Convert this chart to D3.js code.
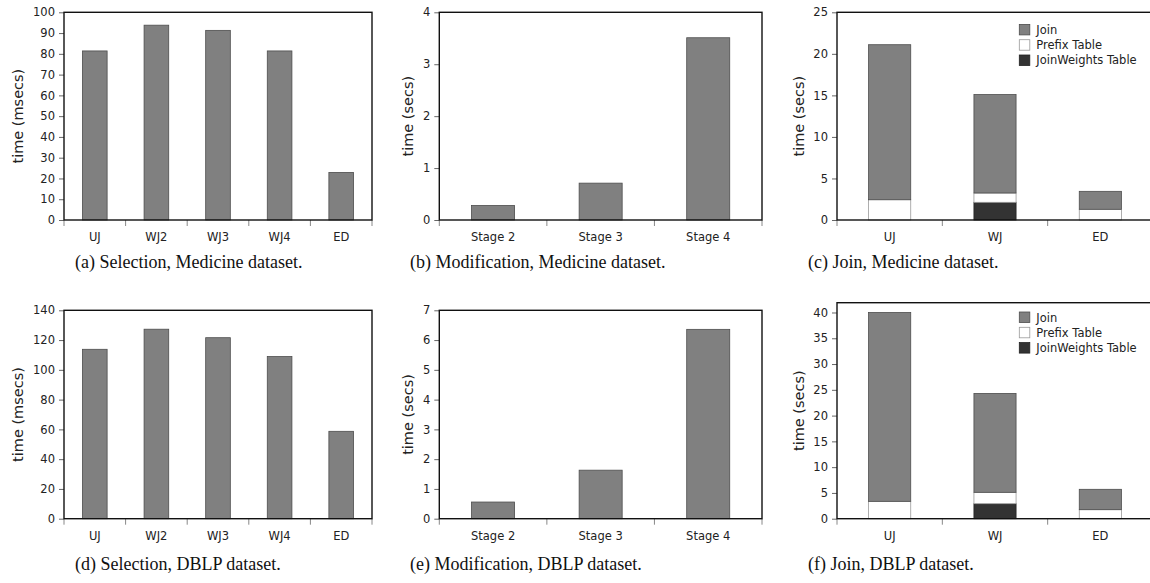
<!DOCTYPE html>
<html><head><meta charset="utf-8">
<script src="https://cdn.jsdelivr.net/npm/d3@7"></script>
<style>body{margin:0;background:#fff;} svg{display:block;}</style>
</head><body>
<svg id="chart" width="1150" height="583"></svg>
<script>
// ---- data ----
const selCats = ["UJ", "WJ2", "WJ3", "WJ4", "ED"];
const selMedicine = [81.4, 93.8, 91.3, 81.4, 22.9];
const selDBLP = [113.8, 127.3, 121.6, 108.9, 58.7];

const modCats = ["Stage 2", "Stage 3", "Stage 4"];
const modMedicine = [0.28, 0.71, 3.51];
const modDBLP = [0.56, 1.63, 6.36];

const joinCats = ["UJ", "WJ", "ED"];
const joinSeries = ["JoinWeights Table", "Prefix Table", "Join"];
const joinMedJoinWeights = [0, 2.13, 0];
const joinMedPrefix = [2.44, 1.12, 1.29];
const joinMedJoin = [18.66, 11.85, 2.16];
const joinDBLPJoinWeights = [0, 2.91, 0];
const joinDBLPPrefix = [3.37, 2.21, 1.75];
const joinDBLPJoin = [36.63, 19.18, 3.95];

const selTicksMed = [0,10,20,30,40,50,60,70,80,90,100];
const selTicksDBLP = [0,20,40,60,80,100,120,140];
const modTicksMed = [0,1,2,3,4];
const modTicksDBLP = [0,1,2,3,4,5,6,7];
const joinTicksMed = [0,5,10,15,20,25];
const joinTicksDBLP = [0,5,10,15,20,25,30,35,40];

const captions = [
  "(a) Selection, Medicine dataset.",
  "(b) Modification, Medicine dataset.",
  "(c) Join, Medicine dataset.",
  "(d) Selection, DBLP dataset.",
  "(e) Modification, DBLP dataset.",
  "(f) Join, DBLP dataset."
];

// ---- styles ----
const svg = d3.select("#chart");
const FONT = "DejaVu Sans, Verdana, sans-serif";
const BAR = "#808080", BARSTROKE = "#4d4d4d";
const seriesFill = {"Join": "#808080", "Prefix Table": "#ffffff", "JoinWeights Table": "#333333"};
const seriesStroke = {"Join": "#4d4d4d", "Prefix Table": "#9a9a9a", "JoinWeights Table": "#222222"};

function panel(opt) {
  const g = svg.append("g");
  const x = d3.scaleBand().domain(opt.cats).range([opt.left, opt.right]).paddingInner(0.6).paddingOuter(0.3);
  const y = d3.scaleLinear().domain(opt.domain).range([opt.bottom, opt.top]);

  if (opt.values) {
    g.selectAll("rect.bar").data(opt.values).join("rect")
      .attr("x", (d, i) => x(opt.cats[i]))
      .attr("width", x.bandwidth())
      .attr("y", d => y(d))
      .attr("height", d => y(0) - y(d))
      .attr("fill", BAR).attr("stroke", BARSTROKE).attr("stroke-width", 0.8);
  } else {
    const rows = opt.cats.map((c, i) => ({cat: c, "JoinWeights Table": opt.jw[i], "Prefix Table": opt.prefix[i], "Join": opt.join[i]}));
    const stacked = d3.stack().keys(joinSeries)(rows);
    stacked.forEach(s => {
      g.selectAll(null).data(s.filter(d => d[1] - d[0] > 0)).join("rect")
        .attr("x", d => x(d.data.cat))
        .attr("width", x.bandwidth())
        .attr("y", d => y(d[1]))
        .attr("height", d => y(d[0]) - y(d[1]))
        .attr("fill", seriesFill[s.key]).attr("stroke", seriesStroke[s.key]).attr("stroke-width", 0.8);
    });
    const lg = g.append("g").attr("transform", `translate(${opt.legendX},${opt.legendY})`);
    const legendOrder = ["Join", "Prefix Table", "JoinWeights Table"];
    legendOrder.forEach((k, i) => {
      lg.append("rect").attr("x", 0).attr("y", i * 15.3 - 5.3).attr("width", 10.5).attr("height", 10.5)
        .attr("fill", seriesFill[k]).attr("stroke", k === "Prefix Table" ? "#999" : seriesStroke[k]).attr("stroke-width", 0.8);
      lg.append("text").attr("x", 17).attr("y", i * 15.3 + 4.2).text(k)
        .attr("font-family", FONT).attr("font-size", 11.5).attr("fill", "#222");
    });
  }

  const yAxis = d3.axisLeft(y).tickValues(opt.ticks).tickSize(5).tickPadding(4).tickFormat(d3.format("d"));
  const ya = g.append("g").attr("transform", `translate(${opt.left},0)`).call(yAxis);
  ya.select(".domain").remove();
  ya.selectAll(".tick line").attr("stroke", "#666");
  ya.selectAll(".tick text").attr("font-family", FONT).attr("font-size", 11.5).attr("fill", "#222");

  const xAxis = d3.axisBottom(x).tickSize(0).tickPadding(13);
  const xa = g.append("g").attr("transform", `translate(0,${opt.bottom})`).call(xAxis);
  xa.select(".domain").remove();
  xa.selectAll(".tick text").attr("font-family", FONT).attr("font-size", 11.5).attr("fill", "#222");
  const step = x.step();
  const bounds = d3.range(opt.cats.length + 1).map(i => opt.left + i * step);
  g.selectAll(null).data(bounds).join("line")
    .attr("x1", d => d).attr("x2", d => d)
    .attr("y1", opt.bottom).attr("y2", opt.bottom + 6)
    .attr("stroke", "#888").attr("stroke-width", 1);

  g.append("rect").attr("x", opt.left).attr("y", opt.top)
    .attr("width", opt.right - opt.left).attr("height", opt.bottom - opt.top)
    .attr("fill", "none").attr("stroke", "#111").attr("stroke-width", 1.4);

  g.append("text")
    .attr("transform", `translate(${opt.titleX},${(opt.top + opt.bottom) / 2}) rotate(-90)`)
    .attr("text-anchor", "middle").attr("dominant-baseline", "central")
    .attr("font-family", FONT).attr("font-size", 14.5).attr("fill", "#222")
    .text(opt.title);
}

const topA = 12.3, botA = 220, topB = 310.3, botB = 518.7;

panel({cats: selCats, values: selMedicine, left: 64, right: 372, top: topA, bottom: botA, domain: [0, 100], ticks: selTicksMed, title: "time (msecs)", titleX: 18});
panel({cats: modCats, values: modMedicine, left: 439.3, right: 762, top: topA, bottom: botA, domain: [0, 4], ticks: modTicksMed, title: "time (secs)", titleX: 407.5});
panel({cats: joinCats, jw: joinMedJoinWeights, prefix: joinMedPrefix, join: joinMedJoin, left: 837, right: 1153, top: topA, bottom: botA, domain: [0, 25], ticks: joinTicksMed, title: "time (secs)", titleX: 799, legendX: 1019.3, legendY: 29.7});
panel({cats: selCats, values: selDBLP, left: 64, right: 372, top: topB, bottom: botB, domain: [0, 140], ticks: selTicksDBLP, title: "time (msecs)", titleX: 18});
panel({cats: modCats, values: modDBLP, left: 439.3, right: 762, top: topB, bottom: botB, domain: [0, 7], ticks: modTicksDBLP, title: "time (secs)", titleX: 407.5});
panel({cats: joinCats, jw: joinDBLPJoinWeights, prefix: joinDBLPPrefix, join: joinDBLPJoin, left: 837, right: 1153, top: 302.7, bottom: botB, domain: [0, 41.9], ticks: joinTicksDBLP, title: "time (secs)", titleX: 799, legendX: 1019.3, legendY: 317.3});

const capX = [75, 410, 808, 75, 410, 808];
const capY = [268, 268, 268, 570, 570, 570];
svg.selectAll("text.cap").data(captions).join("text").attr("class", "cap")
  .attr("x", (d, i) => capX[i]).attr("y", (d, i) => capY[i])
  .attr("font-family", "Liberation Serif, Times New Roman, serif").attr("font-size", 18).attr("fill", "#111")
  .text(d => d);
</script>
</body></html>
